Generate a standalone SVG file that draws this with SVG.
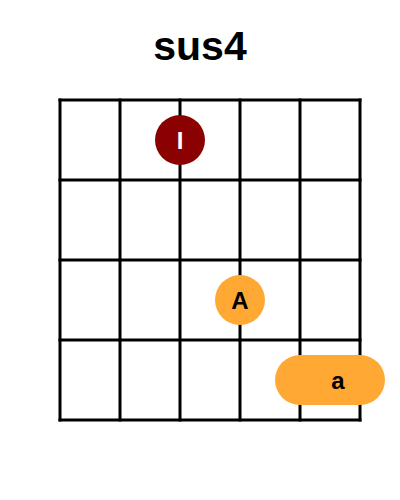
<svg xmlns="http://www.w3.org/2000/svg" width="400" height="500" viewBox="0 0 400 500">
<style>
.grid line{stroke:#000;stroke-width:3;stroke-linecap:square}
.lbl{font-family:"Liberation Sans",Arial,sans-serif;font-weight:bold;font-size:24px;text-anchor:middle;dominant-baseline:central}
.title{font-family:"Liberation Sans",Arial,sans-serif;font-weight:bold;font-size:41px;text-anchor:middle}
</style>
<rect width="400" height="500" fill="#fff"/>
<text class="title" x="200" y="60">sus4</text>
<g id="connectors" class="grid">
<line x1="60" y1="100" x2="60" y2="420"/>
<line x1="120" y1="100" x2="120" y2="420"/>
<line x1="180" y1="100" x2="180" y2="420"/>
<line x1="240" y1="100" x2="240" y2="420"/>
<line x1="300" y1="100" x2="300" y2="420"/>
<line x1="360" y1="100" x2="360" y2="420"/>
<line x1="60" y1="100" x2="360" y2="100"/>
<line x1="60" y1="180" x2="360" y2="180"/>
<line x1="60" y1="260" x2="360" y2="260"/>
<line x1="60" y1="340" x2="360" y2="340"/>
<line x1="60" y1="420" x2="360" y2="420"/>
</g>
<g id="node-I">
<circle cx="180" cy="140" r="25" fill="#8b0000"/>
<text class="lbl" x="180" y="140" fill="#fff">I</text>
</g>
<g id="node-A">
<circle cx="240" cy="300" r="25" fill="#ffa833"/>
<text class="lbl" x="240" y="300" fill="#000">A</text>
</g>
<g id="node-a">
<rect x="275" y="355" width="110" height="50" rx="25" fill="#ffa833"/>
<text class="lbl" x="338" y="380" fill="#000">a</text>
</g>
</svg>
